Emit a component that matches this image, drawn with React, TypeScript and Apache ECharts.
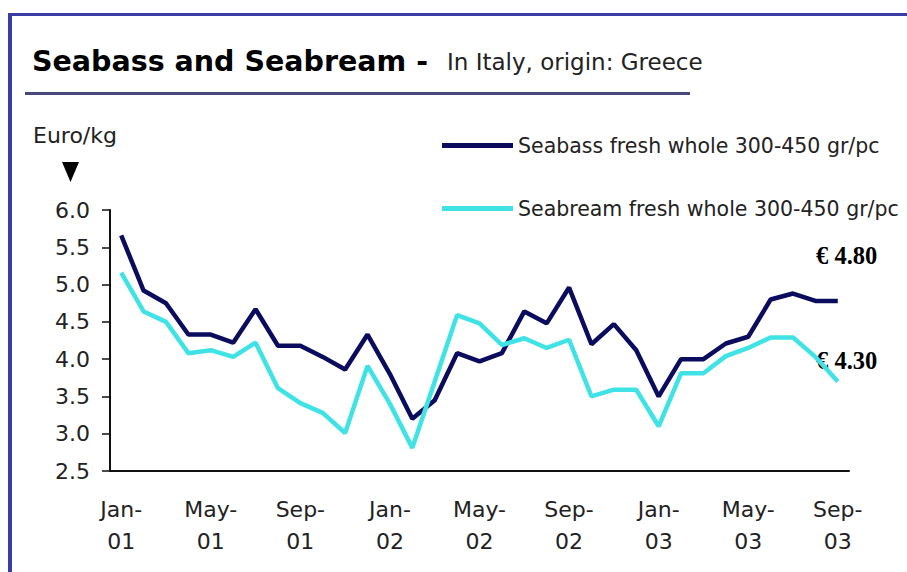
import React, { useEffect, useRef } from "react";
import * as echarts from "echarts";

const categories = [
  "Jan-01", "Feb-01", "Mar-01", "Apr-01", "May-01", "Jun-01", "Jul-01", "Aug-01", "Sep-01", "Oct-01", "Nov-01", "Dec-01",
  "Jan-02", "Feb-02", "Mar-02", "Apr-02", "May-02", "Jun-02", "Jul-02", "Aug-02", "Sep-02", "Oct-02", "Nov-02", "Dec-02",
  "Jan-03", "Feb-03", "Mar-03", "Apr-03", "May-03", "Jun-03", "Jul-03", "Aug-03", "Sep-03",
];

const seabass = [
  5.66, 4.92, 4.75, 4.33, 4.33, 4.22, 4.67, 4.18, 4.18, 4.03, 3.86, 4.33,
  3.8, 3.2, 3.45, 4.08, 3.97, 4.08, 4.64, 4.48, 4.96, 4.2, 4.47, 4.12,
  3.5, 4.0, 4.0, 4.21, 4.3, 4.8, 4.88, 4.78, 4.78,
];

const seabream = [
  5.16, 4.64, 4.5, 4.08, 4.12, 4.03, 4.22, 3.61, 3.41, 3.28, 3.01, 3.91,
  3.4, 2.81, 3.7, 4.59, 4.48, 4.19, 4.28, 4.15, 4.26, 3.5, 3.59, 3.59,
  3.1, 3.81, 3.81, 4.04, 4.15, 4.29, 4.29, 4.03, 3.7,
];

const seriesNames = ["Seabass fresh whole 300-450 gr/pc", "Seabream fresh whole 300-450 gr/pc"];
const endLabels = ["€ 4.80", "€ 4.30"];
const titleMain = "Seabass and Seabream -";
const titleSub = "In Italy, origin: Greece";
const yUnit = "Euro/kg";

export default function App() {
  const ref = useRef<HTMLDivElement>(null);
  useEffect(() => {
    const chart = echarts.init(ref.current!, null, { renderer: "svg" });
    chart.setOption({
      animation: false,
      backgroundColor: "#ffffff",
      grid: { left: 110, right: 58, top: 210, bottom: 101, containLabel: false },
      legend: {
        orient: "vertical",
        left: 442,
        top: 135,
        padding: 0,
        itemGap: 42,
        itemWidth: 71,
        itemHeight: 5,
        icon: "rect",
        data: seriesNames,
        textStyle: { fontFamily: "DejaVu Sans", fontSize: 20.5, color: "#222" },
      },
      xAxis: {
        type: "category",
        data: categories,
        boundaryGap: true,
        axisLine: { lineStyle: { color: "#111", width: 2 } },
        axisTick: { interval: 3, length: 7, lineStyle: { color: "#111", width: 1.5 } },
        axisLabel: {
          interval: 3,
          margin: 22,
          fontFamily: "DejaVu Sans",
          fontSize: 22,
          lineHeight: 32,
          color: "#222",
          formatter: (v: string) => v.replace("-", "-\n"),
        },
      },
      yAxis: {
        type: "value",
        min: 2.5,
        max: 6,
        interval: 0.5,
        splitLine: { show: false },
        axisLine: { show: true, lineStyle: { color: "#111", width: 2 } },
        axisTick: { show: true, length: 8, lineStyle: { color: "#111", width: 1.5 } },
        axisLabel: {
          margin: 20,
          fontFamily: "DejaVu Sans",
          fontSize: 22,
          color: "#222",
          formatter: (v: number) => v.toFixed(1),
        },
      },
      series: [
        {
          name: seriesNames[0],
          type: "line",
          data: seabass,
          symbol: "none",
          color: "#0c0c5e",
          lineStyle: { width: 4.5, color: "#0c0c5e" },
        },
        {
          name: seriesNames[1],
          type: "line",
          data: seabream,
          symbol: "none",
          color: "#3fe3e6",
          lineStyle: { width: 4.5, color: "#3fe3e6" },
        },
      ],
      graphic: [
        { type: "line", shape: { x1: 8, y1: 14.5, x2: 907, y2: 14.5 }, style: { stroke: "#3b3ba6", lineWidth: 3 } },
        { type: "line", shape: { x1: 10, y1: 13, x2: 10, y2: 572 }, style: { stroke: "#3b3ba6", lineWidth: 4 } },
        { type: "line", shape: { x1: 25, y1: 93.5, x2: 690, y2: 93.5 }, style: { stroke: "#48487a", lineWidth: 3 } },
        {
          type: "text",
          x: 32,
          y: 61,
          style: { text: titleMain, fontFamily: "DejaVu Sans", fontWeight: "bold", fontSize: 28.5, fill: "#000", verticalAlign: "middle" },
        },
        {
          type: "text",
          x: 447,
          y: 62,
          style: { text: titleSub, fontFamily: "DejaVu Sans", fontSize: 23, fill: "#222", verticalAlign: "middle" },
        },
        {
          type: "text",
          x: 33,
          y: 135,
          style: { text: yUnit, fontFamily: "DejaVu Sans", fontSize: 22, fill: "#222", verticalAlign: "middle" },
        },
        {
          type: "polygon",
          shape: { points: [[62, 162], [79, 162], [70.5, 182]] },
          style: { fill: "#000" },
        },
        {
          type: "text",
          x: 816,
          y: 255,
          style: { text: endLabels[0], fontFamily: "Liberation Serif", fontWeight: "bold", fontSize: 24.5, fill: "#000", verticalAlign: "middle" },
        },
        {
          type: "text",
          x: 816,
          y: 360,
          style: { text: endLabels[1], fontFamily: "Liberation Serif", fontWeight: "bold", fontSize: 24.5, fill: "#000", verticalAlign: "middle" },
        },
      ],
    });
    return () => chart.dispose();
  }, []);
  return (
    <div
      ref={ref}
      style={{ position: "absolute", left: 0, top: 0, width: 907, height: 572, background: "#fff" }}
    />
  );
}
